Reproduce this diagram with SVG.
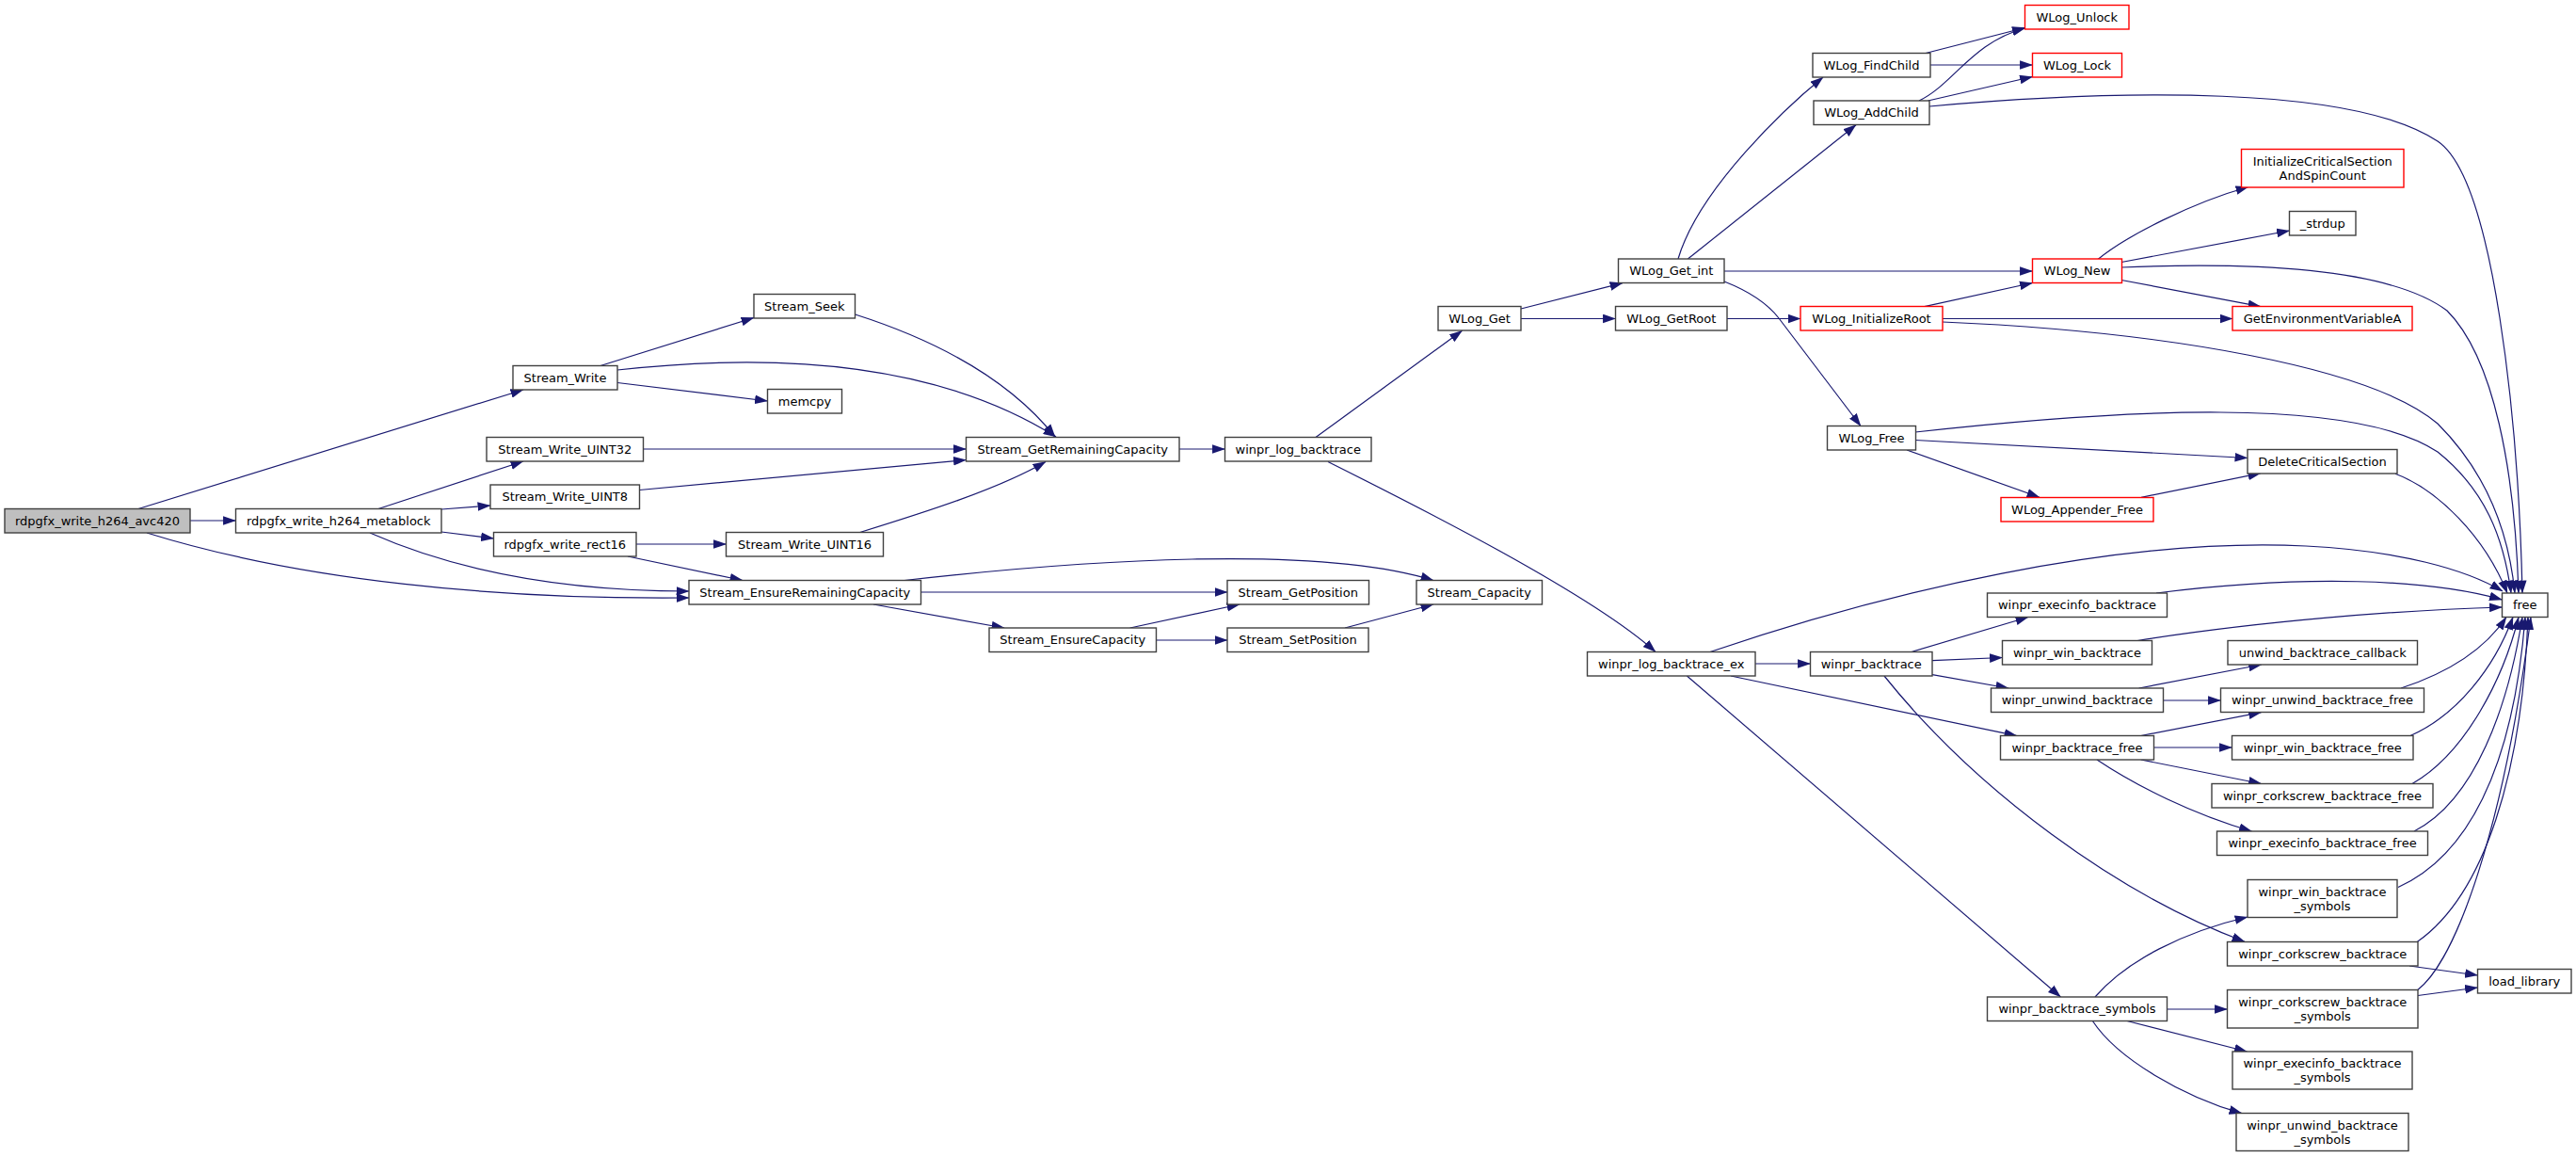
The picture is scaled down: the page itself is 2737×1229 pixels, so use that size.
<svg xmlns="http://www.w3.org/2000/svg" width="2737" height="1229" viewBox="0 0 2737 1229">
<style>
.n rect{fill:#ffffff;stroke:#404040;stroke-width:1.4}
.n.root rect{fill:#bfbfbf}
.n.trunc rect{stroke:#ff0000}
.n text{font-family:"DejaVu Sans","Liberation Sans",sans-serif;font-size:13px;text-anchor:middle;fill:#000000}
#edges path{fill:none;stroke:#191970;stroke-width:1.2;marker-end:url(#ah)}
</style>
<defs>
<marker id="ah" markerUnits="userSpaceOnUse" markerWidth="14" markerHeight="10" viewBox="0 0 13 9" refX="12.5" refY="4.5" orient="auto"><path d="M0,0L13,4.5L0,9z" fill="#191970"/></marker>
</defs>
<rect x="0" y="0" width="2737" height="1229" fill="#ffffff"/>
<g id="edges">
<path d="M147,540.5L556,414"/>
<path d="M202,553L250.5,553"/>
<path d="M156,566C320,617 530,637 732,635"/>
<path d="M402,540.5L556,490"/>
<path d="M469,541L521,537"/>
<path d="M469,565L524.5,572"/>
<path d="M393,566C470,600 580,628 732,628"/>
<path d="M638,388.5L801,337.5"/>
<path d="M656,393C790,378 980,375 1122,464"/>
<path d="M656,406.5L815.5,426"/>
<path d="M908.6,334C990,360 1070,400 1121,464"/>
<path d="M683.5,477L1026.5,477"/>
<path d="M679.5,520.5L1026.5,488.5"/>
<path d="M676,578L771.5,578"/>
<path d="M667,591L789,616.5"/>
<path d="M913.7,565.5C980,545 1060,520 1111,490.5"/>
<path d="M978.7,629L1304,629"/>
<path d="M961,616.5C1150,595 1400,578 1523,616.5"/>
<path d="M928,642L1067,667"/>
<path d="M1200.7,667L1317,642"/>
<path d="M1228.7,680L1304,680"/>
<path d="M1429,667L1523,642"/>
<path d="M1253,477L1301.5,477"/>
<path d="M1398,464.5L1553.5,351.3"/>
<path d="M1411,490.5C1500,535 1690,630 1759,692.5"/>
<path d="M1616,328L1724,300.7"/>
<path d="M1616,338.5L1716.5,338.5"/>
<path d="M1783,275C1805,200 1900,112 1937,82"/>
<path d="M1793.4,275L1972,132.7"/>
<path d="M1832,288L2159.5,288"/>
<path d="M1832,299C1865,312 1880,325 1890,338L1977,452.5"/>
<path d="M2046,56.5L2151.5,29.5"/>
<path d="M2051,69L2159.5,69"/>
<path d="M2039,107C2075,90 2095,45 2151.5,30"/>
<path d="M2048.5,107L2159.5,81.5"/>
<path d="M2050,113C2250,95 2500,90 2590,150C2650,190 2676,450 2680,630"/>
<path d="M1835,338.5L1913,338.5"/>
<path d="M2044.7,325.7L2159.5,300.5"/>
<path d="M2064,338.5L2372,338.5"/>
<path d="M2064,342C2300,352 2520,390 2590,450C2640,500 2665,560 2672,630"/>
<path d="M2229,275.5C2260,250 2330,215 2389,198.5"/>
<path d="M2254,278.5L2432.5,245"/>
<path d="M2254,284C2400,278 2540,285 2600,330C2650,380 2672,500 2676,630"/>
<path d="M2254,297.5L2402,325.7"/>
<path d="M2035,459C2250,435 2500,420 2590,480C2640,520 2660,570 2668,630"/>
<path d="M2035,467.5L2388,486.5"/>
<path d="M2026,478L2167,528.3"/>
<path d="M2275,528.3L2402,502.7"/>
<path d="M2545,503.3C2590,520 2640,570 2664,630"/>
<path d="M1817,692.5C2000,630 2250,570 2450,580C2550,585 2620,605 2659,628"/>
<path d="M1865,705L1923.5,705"/>
<path d="M1839,718L2143,781.7"/>
<path d="M1792.4,718L2189.4,1059"/>
<path d="M2031,692.5L2155,655.5"/>
<path d="M2053,701.7L2127.5,698.5"/>
<path d="M2053,716.7L2134,731"/>
<path d="M2002,718C2100,840 2250,950 2385,1000.3"/>
<path d="M2291,630C2450,610 2580,615 2658.5,637"/>
<path d="M2271,680.5C2400,660 2550,648 2658.5,645"/>
<path d="M2272.6,731L2402.6,706"/>
<path d="M2298.6,744L2359.5,744"/>
<path d="M2274.7,781.5L2402.6,756.7"/>
<path d="M2288.5,794L2371.5,794"/>
<path d="M2274.7,807L2402.6,832.5"/>
<path d="M2228,807C2270,835 2330,865 2392.5,883"/>
<path d="M2551,731C2600,715 2640,690 2663,655.5"/>
<path d="M2561,781.5C2610,760 2650,710 2670,655.5"/>
<path d="M2563,832.5C2620,800 2660,720 2676,655.5"/>
<path d="M2565,883C2630,850 2665,750 2680,655.5"/>
<path d="M2548,942.5C2620,910 2670,820 2683,655.5"/>
<path d="M2568.5,1000.3C2640,950 2680,820 2686,655.5"/>
<path d="M2560,1026L2632.5,1036"/>
<path d="M2568.5,1051.7C2610,1020 2660,880 2689,655.5"/>
<path d="M2569,1057.5L2632.5,1049"/>
<path d="M2226,1059C2260,1020 2320,990 2388,974"/>
<path d="M2302.6,1072L2366.5,1072"/>
<path d="M2260,1084.5L2387.5,1117"/>
<path d="M2223.4,1084.5C2250,1125 2320,1165 2382,1182.7"/>
</g>
<g id="n_avc420" class="n root"><rect x="5" y="540.5" width="197" height="25.5"/><text x="103.5" y="557.5">rdpgfx_write_h264_avc420</text></g>
<g id="n_metablock" class="n"><rect x="250.5" y="540.5" width="218.5" height="25.5"/><text x="359.75" y="557.5">rdpgfx_write_h264_metablock</text></g>
<g id="n_stream_write" class="n"><rect x="545" y="388.5" width="111" height="25.5"/><text x="600.5" y="405.5">Stream_Write</text></g>
<g id="n_uint32" class="n"><rect x="517" y="464.5" width="166.5" height="25.5"/><text x="600.25" y="481.5">Stream_Write_UINT32</text></g>
<g id="n_uint8" class="n"><rect x="521" y="515" width="158.5" height="25.5"/><text x="600.25" y="532">Stream_Write_UINT8</text></g>
<g id="n_rect16" class="n"><rect x="524.5" y="565.5" width="151.5" height="25.5"/><text x="600.25" y="582.5">rdpgfx_write_rect16</text></g>
<g id="n_seek" class="n"><rect x="801" y="312.5" width="107.5" height="25.5"/><text x="854.75" y="329.5">Stream_Seek</text></g>
<g id="n_memcpy" class="n"><rect x="815.5" y="413.5" width="79" height="25.5"/><text x="855" y="430.5">memcpy</text></g>
<g id="n_uint16" class="n"><rect x="771.5" y="565.5" width="167" height="25.5"/><text x="855" y="582.5">Stream_Write_UINT16</text></g>
<g id="n_erc" class="n"><rect x="732" y="616.5" width="246.5" height="25.5"/><text x="855.25" y="633.5">Stream_EnsureRemainingCapacity</text></g>
<g id="n_grc" class="n"><rect x="1026.5" y="464.5" width="226.5" height="25.5"/><text x="1139.75" y="481.5">Stream_GetRemainingCapacity</text></g>
<g id="n_ec" class="n"><rect x="1051" y="667" width="177.5" height="25.5"/><text x="1139.75" y="684">Stream_EnsureCapacity</text></g>
<g id="n_wlb" class="n"><rect x="1301.5" y="464.5" width="155.5" height="25.5"/><text x="1379.25" y="481.5">winpr_log_backtrace</text></g>
<g id="n_getpos" class="n"><rect x="1304" y="616.5" width="150.5" height="25.5"/><text x="1379.25" y="633.5">Stream_GetPosition</text></g>
<g id="n_setpos" class="n"><rect x="1304" y="667" width="150" height="25.5"/><text x="1379" y="684">Stream_SetPosition</text></g>
<g id="n_wlog_get" class="n"><rect x="1528" y="325.5" width="88" height="25.5"/><text x="1572" y="342.5">WLog_Get</text></g>
<g id="n_capacity" class="n"><rect x="1505" y="616.5" width="133.5" height="25.5"/><text x="1571.75" y="633.5">Stream_Capacity</text></g>
<g id="n_get_int" class="n"><rect x="1719.5" y="275" width="112.5" height="25.5"/><text x="1775.75" y="292">WLog_Get_int</text></g>
<g id="n_getroot" class="n"><rect x="1716.5" y="325.5" width="118.5" height="25.5"/><text x="1775.75" y="342.5">WLog_GetRoot</text></g>
<g id="n_wlbe" class="n"><rect x="1686.5" y="692.5" width="178.5" height="25.5"/><text x="1775.75" y="709.5">winpr_log_backtrace_ex</text></g>
<g id="n_findchild" class="n"><rect x="1926" y="56.5" width="125" height="25.5"/><text x="1988.5" y="73.5">WLog_FindChild</text></g>
<g id="n_addchild" class="n"><rect x="1927" y="107" width="123" height="25.5"/><text x="1988.5" y="124">WLog_AddChild</text></g>
<g id="n_initroot" class="n trunc"><rect x="1913" y="325.5" width="151" height="25.5"/><text x="1988.5" y="342.5">WLog_InitializeRoot</text></g>
<g id="n_wlog_free" class="n"><rect x="1941.5" y="452.5" width="94" height="25.5"/><text x="1988.5" y="469.5">WLog_Free</text></g>
<g id="n_wb" class="n"><rect x="1923.5" y="692.5" width="129.5" height="25.5"/><text x="1988.25" y="709.5">winpr_backtrace</text></g>
<g id="n_unlock" class="n trunc"><rect x="2151.5" y="5.5" width="110.5" height="25.5"/><text x="2206.75" y="22.5">WLog_Unlock</text></g>
<g id="n_lock" class="n trunc"><rect x="2159.5" y="56.5" width="95" height="25.5"/><text x="2207" y="73.5">WLog_Lock</text></g>
<g id="n_new" class="n trunc"><rect x="2159.5" y="275" width="95" height="25.5"/><text x="2207" y="292">WLog_New</text></g>
<g id="n_appender_free" class="n trunc"><rect x="2126" y="528.5" width="162" height="25.5"/><text x="2207" y="545.5">WLog_Appender_Free</text></g>
<g id="n_eb" class="n"><rect x="2111.5" y="630" width="191" height="25.5"/><text x="2207" y="647">winpr_execinfo_backtrace</text></g>
<g id="n_wib" class="n"><rect x="2127.5" y="680.5" width="159" height="25.5"/><text x="2207" y="697.5">winpr_win_backtrace</text></g>
<g id="n_ub" class="n"><rect x="2115.5" y="731" width="183" height="25.5"/><text x="2207" y="748">winpr_unwind_backtrace</text></g>
<g id="n_bf" class="n"><rect x="2125.5" y="781.5" width="163" height="25.5"/><text x="2207" y="798.5">winpr_backtrace_free</text></g>
<g id="n_bs" class="n"><rect x="2111.5" y="1059" width="191" height="25.5"/><text x="2207" y="1076">winpr_backtrace_symbols</text></g>
<g id="n_initcs" class="n trunc"><rect x="2381.5" y="158.5" width="172.5" height="40.5"/><text x="2467.75" y="175.5">InitializeCriticalSection</text><text x="2467.75" y="190.5">AndSpinCount</text></g>
<g id="n_strdup" class="n"><rect x="2432.5" y="224.5" width="70.5" height="25.5"/><text x="2467.75" y="241.5">_strdup</text></g>
<g id="n_getenv" class="n trunc"><rect x="2372" y="325.5" width="191" height="25.5"/><text x="2467.5" y="342.5">GetEnvironmentVariableA</text></g>
<g id="n_dcs" class="n"><rect x="2388" y="477.5" width="159" height="25.5"/><text x="2467.5" y="494.5">DeleteCriticalSection</text></g>
<g id="n_ubc" class="n"><rect x="2367" y="680.5" width="201.5" height="25.5"/><text x="2467.75" y="697.5">unwind_backtrace_callback</text></g>
<g id="n_ubf" class="n"><rect x="2359.5" y="731" width="216" height="25.5"/><text x="2467.5" y="748">winpr_unwind_backtrace_free</text></g>
<g id="n_wbf" class="n"><rect x="2371.5" y="781.5" width="192.5" height="25.5"/><text x="2467.75" y="798.5">winpr_win_backtrace_free</text></g>
<g id="n_cbf" class="n"><rect x="2350" y="832.5" width="235" height="25.5"/><text x="2467.5" y="849.5">winpr_corkscrew_backtrace_free</text></g>
<g id="n_ebf" class="n"><rect x="2355.5" y="883" width="224" height="25.5"/><text x="2467.5" y="900">winpr_execinfo_backtrace_free</text></g>
<g id="n_wbs" class="n"><rect x="2388" y="934.5" width="159" height="40"/><text x="2467.5" y="951.5">winpr_win_backtrace</text><text x="2467.5" y="966.5">_symbols</text></g>
<g id="n_cb" class="n"><rect x="2366.5" y="1000.5" width="202.5" height="25.5"/><text x="2467.75" y="1017.5">winpr_corkscrew_backtrace</text></g>
<g id="n_cbs" class="n"><rect x="2366.5" y="1051.5" width="202.5" height="40.5"/><text x="2467.75" y="1068.5">winpr_corkscrew_backtrace</text><text x="2467.75" y="1083.5">_symbols</text></g>
<g id="n_ebs" class="n"><rect x="2372" y="1117" width="191" height="40"/><text x="2467.5" y="1134">winpr_execinfo_backtrace</text><text x="2467.5" y="1149">_symbols</text></g>
<g id="n_ubs" class="n"><rect x="2376" y="1182.5" width="183" height="40"/><text x="2467.5" y="1199.5">winpr_unwind_backtrace</text><text x="2467.5" y="1214.5">_symbols</text></g>
<g id="n_free" class="n"><rect x="2658.5" y="630" width="48.5" height="25.5"/><text x="2682.75" y="647">free</text></g>
<g id="n_load_library" class="n"><rect x="2632.5" y="1029.5" width="99.5" height="25.5"/><text x="2682.25" y="1046.5">load_library</text></g>
</svg>
